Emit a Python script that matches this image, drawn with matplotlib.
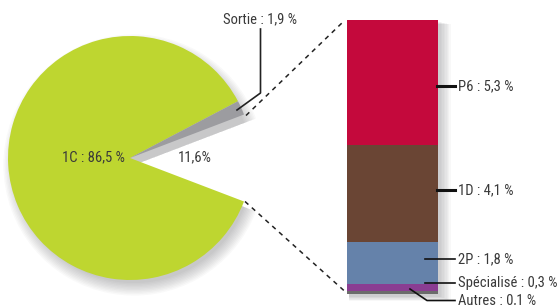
import matplotlib
matplotlib.use("Agg")
import matplotlib.pyplot as plt
from matplotlib.patches import Wedge, Rectangle
from matplotlib import font_manager
import math

# ---- data ----
pie_labels = ["1C", "Autres sorties détaillées", "Sortie"]
pie_values = [86.5, 11.6, 1.9]
bar_labels = ["P6", "1D", "2P", "Spécialisé", "Autres"]
bar_values = [5.3, 4.1, 1.8, 0.3, 0.1]
bar_texts = ["P6 : 5,3 %", "1D : 4,1 %", "2P : 1,8 %", "Spécialisé : 0,3 %", "Autres : 0,1 %"]
pie_texts = ["1C : 86,5 %", "11,6%", "Sortie : 1,9 %"]

GREEN = "#BED630"
GRAY = "#9C9CA0"
bar_colors = ["#C4093C", "#6A4534", "#6582AA", "#8A3D92", "#6B6B6B"]
TXT = "#3a3a3a"

avail = {f.name for f in font_manager.fontManager.ttflist}
fam = [f for f in ["Liberation Sans Narrow", "Roboto Condensed", "Liberation Sans"] if f in avail] + ["DejaVu Sans"]
plt.rcParams["font.family"] = fam
FS = 10.5

W, H = 557, 305
fig = plt.figure(figsize=(W / 100, H / 100), dpi=100)
ax = fig.add_axes([0, 0, 1, 1])

cx, cy, R = 130, 147, 122
total = sum(pie_values)
gap_deg = pie_values[1] / total * 360
sortie_deg = pie_values[2] / total * 360
g1 = gap_deg / 2              # gap upper edge
start = g1 + sortie_deg       # green starts here

# soft shadow of the pie
for i in range(10):
    r = R - 4 + i * 1.4
    ax.add_patch(Wedge((cx + 4, cy - 7), r, g1, 360 - g1, facecolor="#55555a",
                       alpha=0.035, linewidth=0, zorder=1))

wedges, _ = ax.pie(pie_values, colors=[GREEN, "white", GRAY], startangle=start,
                   center=(cx, cy), radius=R, counterclock=True,
                   wedgeprops=dict(linewidth=0), frame=True)
wedges[1].set_visible(False)
for w in wedges:
    w.set_zorder(2)

ax.text(93, H - 157, pie_texts[0], ha="center", va="center", fontsize=FS, color=TXT, zorder=5)
ax.text(195, H - 157, pie_texts[1], ha="center", va="center", fontsize=FS, color=TXT, zorder=5)

# bar
bx, bw = 347, 91
btop, bbot = H - 20, H - 293.5
bar_total = sum(bar_values)
scale = (btop - bbot) / bar_total

# bar shadow
for i in range(8):
    ax.add_patch(Rectangle((bx + 2, bbot - 3 - i * 0.6), bw + 1 + i * 1.4,
                           btop - bbot + 1 + i * 0.3, facecolor="#55555a", alpha=0.04,
                           linewidth=0, zorder=1))

y = btop
for v, c in zip(bar_values, bar_colors):
    h = v * scale
    ax.bar(bx + bw / 2, h, width=bw, bottom=y - h, color=c, linewidth=0, zorder=3)
    y -= h

# dashed connectors
a = math.radians(g1)
p_top = (cx + R * math.cos(a), cy + R * math.sin(a))
p_bot = (cx + R * math.cos(a), cy - R * math.sin(a))
ax.plot([p_top[0] + 2, bx - 3], [p_top[1] - 1, btop - 1], ls=(0, (3, 3)), color="#222", lw=1.1, zorder=4)
ax.plot([p_bot[0] + 1, bx - 2], [p_bot[1], bbot + 2], ls=(0, (3, 3)), color="#222", lw=1.1, zorder=4)

# Sortie label
ax.plot([237, 260.5, 260.5], [H - 110, H - 93, H - 29], color="#222", lw=1.2, zorder=5)
ax.text(260, H - 19, pie_texts[2], ha="center", va="center", fontsize=FS, color=TXT, zorder=5)

# bar labels
lx = 458
ax.plot([437, 455], [H - 86, H - 86], color="#111", lw=2.2, zorder=5)
ax.text(lx, H - 86, bar_texts[0], ha="left", va="center", fontsize=FS, color=TXT, zorder=5)
ax.plot([437, 455], [H - 190, H - 190], color="#111", lw=2.2, zorder=5)
ax.text(lx, H - 190, bar_texts[1], ha="left", va="center", fontsize=FS, color=TXT, zorder=5)
ax.plot([425, 455], [H - 259, H - 259], color="#111", lw=1.2, zorder=5)
ax.text(lx, H - 259, bar_texts[2], ha="left", va="center", fontsize=FS, color=TXT, zorder=5)
ax.plot([425, 455], [H - 282.5, H - 282.5], color="#111", lw=1.2, zorder=5)
ax.text(lx, H - 282.5, bar_texts[3], ha="left", va="center", fontsize=FS, color=TXT, zorder=5)
ax.plot([410, 427, 455], [H - 289, H - 300.5, H - 300.5], color="#111", lw=1.2, zorder=5)
ax.text(lx, H - 300.5, bar_texts[4], ha="left", va="center", fontsize=FS, color=TXT, zorder=5)

ax.set_xlim(0, W)
ax.set_ylim(0, H)
ax.set_aspect("auto")
ax.axis("off")
fig.savefig("out.png", dpi=100)
